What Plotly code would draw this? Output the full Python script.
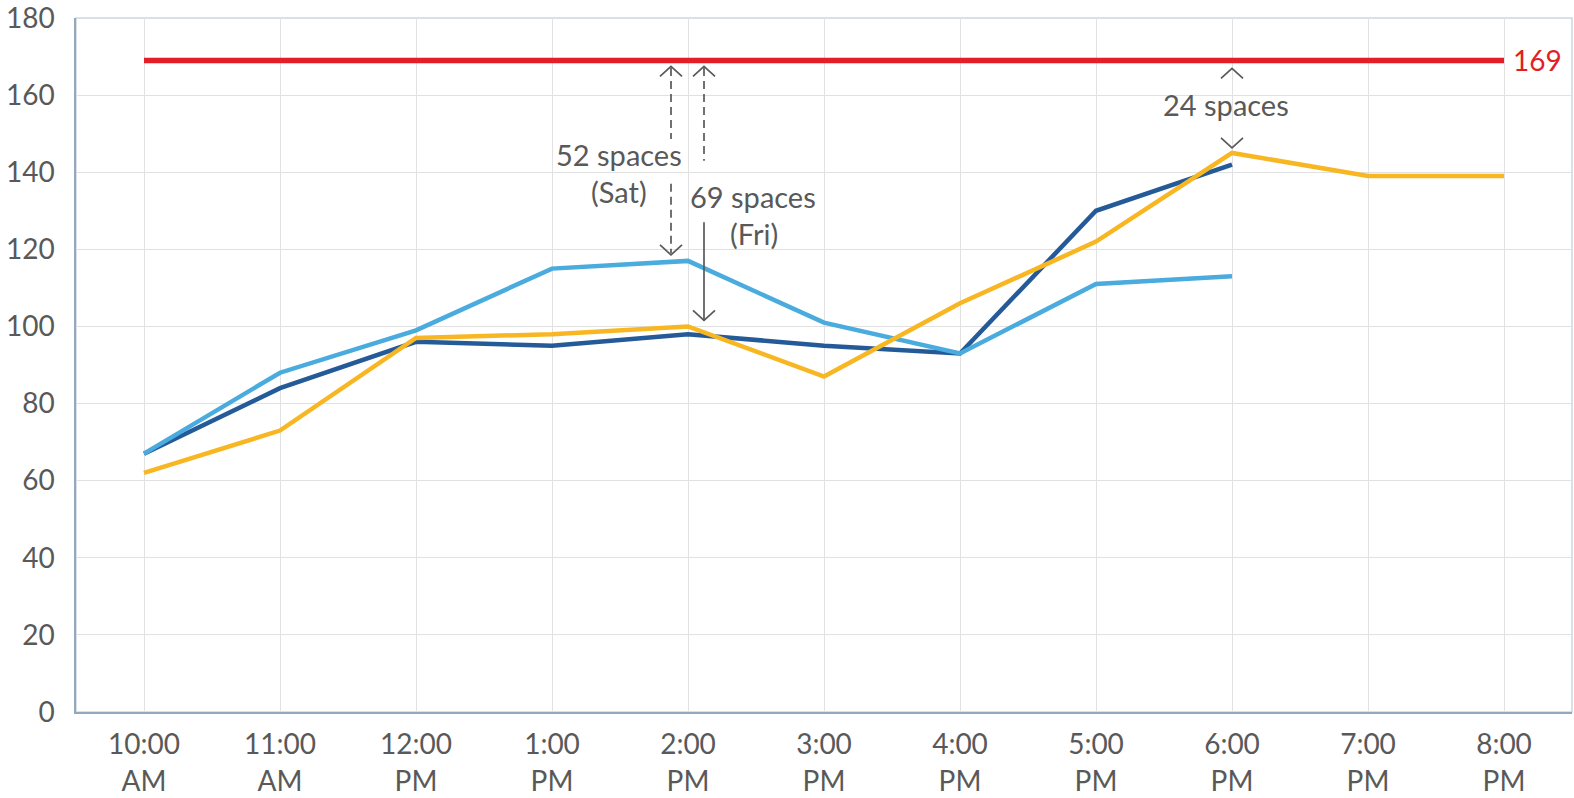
import plotly.graph_objects as go

# ---- data ----
categories = ["10:00<br>AM", "11:00<br>AM", "12:00<br>PM", "1:00<br>PM", "2:00<br>PM",
              "3:00<br>PM", "4:00<br>PM", "5:00<br>PM", "6:00<br>PM", "7:00<br>PM", "8:00<br>PM"]
other_day = [67, 84, 96, 95, 98, 95, 93, 130, 142]
saturday = [67, 88, 99, 115, 117, 101, 93, 111, 113]
friday = [62, 73, 97, 98, 100, 87, 106, 122, 145, 139, 139]
capacity = 169
y_ticks = [0, 20, 40, 60, 80, 100, 120, 140, 160, 180]

# ---- styles ----
RED = "#e31e26"
YELLOW = "#f8b722"
DARK = "#245a97"
LIGHT = "#4aabde"
GREY = "#595959"
FONT = "Lato"

fig = go.Figure()
fig.add_trace(go.Scatter(x=categories[:len(other_day)], y=other_day, mode="lines",
                         line=dict(color=DARK, width=4.5), name="Other day"))
fig.add_trace(go.Scatter(x=categories[:len(saturday)], y=saturday, mode="lines",
                         line=dict(color=LIGHT, width=4.5), name="Sat"))
fig.add_trace(go.Scatter(x=categories[:len(friday)], y=friday, mode="lines",
                         line=dict(color=YELLOW, width=4.5), name="Fri"))
fig.add_trace(go.Scatter(x=categories, y=[capacity] * len(categories), mode="lines",
                         line=dict(color=RED, width=5.5), name="Capacity"))

shapes = []
annotations = []

# plot border (light top/right)
shapes.append(dict(type="rect", xref="paper", yref="paper", x0=0, x1=1, y0=0, y1=1,
                   line=dict(color="#cdd7df", width=1.5), layer="below"))


def chevron(cat, anchor, up, offset=6, xoff=0):
    if up:
        path = f"M{xoff-11},{-offset-10} L{xoff},{-offset} L{xoff+11},{-offset-10}"
    else:
        path = f"M{xoff-11},{offset+10} L{xoff},{offset} L{xoff+11},{offset+10}"
    return dict(type="path", xref="x", yref="y", xsizemode="pixel", ysizemode="pixel",
                xanchor=cat, yanchor=anchor, path=path,
                line=dict(color=GREY, width=1.7))


def vline(cat, xoff, ya, yb, dash):
    return dict(type="line", xref="x", yref="y", xsizemode="pixel", xanchor=cat,
                x0=xoff, x1=xoff, y0=ya, y1=yb,
                line=dict(color=GREY, width=1.7, dash=dash))


c2 = categories[4]
sat_v = saturday[4]
fri_v = friday[4]
DASH = "8px,5px"
# Saturday gap arrow
shapes.append(chevron(c2, capacity, True, xoff=-17))
shapes.append(vline(c2, -17, capacity - 2.0, 148.6, DASH))
shapes.append(vline(c2, -17, 137.0, sat_v + 2.0, DASH))
shapes.append(chevron(c2, sat_v, False, xoff=-17))
# Friday gap arrow
shapes.append(chevron(c2, capacity, True, xoff=16))
shapes.append(vline(c2, 16, capacity - 2.0, 143.0, DASH))
shapes.append(vline(c2, 16, 127.0, fri_v + 1.5, "solid"))
shapes.append(chevron(c2, fri_v, False, xoff=16))
# 6 PM gap
c6 = categories[8]
shapes.append(chevron(c6, capacity, True, offset=8))
shapes.append(chevron(c6, friday[8], False, offset=5))


def label(cat, y, text, xshift, color=GREY, xanchor="center"):
    return dict(x=cat, y=y, xref="x", yref="y", text=text, showarrow=False,
                xshift=xshift, xanchor=xanchor, yanchor="middle",
                font=dict(family=FONT, size=29, color=color))


annotations.append(label(c2, 144.6, f"{capacity - sat_v} spaces", -69))
annotations.append(label(c2, 134.9, "(Sat)", -69))
annotations.append(label(c2, 133.7, f"{capacity - fri_v} spaces", 65))
annotations.append(label(c2, 124.1, "(Fri)", 66))
annotations.append(label(c6, 157.5, f"{capacity - friday[8]} spaces", -6))
annotations.append(dict(x=categories[-1], y=capacity, xref="x", yref="y", text=str(capacity),
                        showarrow=False, xanchor="left", yanchor="middle", xshift=7,
                        font=dict(family=FONT, size=28, color=RED)))

fig.update_layout(
    width=1574, height=798,
    margin=dict(l=76, r=2, t=18, b=86, autoexpand=False),
    paper_bgcolor="white", plot_bgcolor="white",
    showlegend=False,
    shapes=shapes, annotations=annotations,
    font=dict(family=FONT, color=GREY),
)
fig.update_xaxes(type="category", categoryorder="array", categoryarray=categories,
                 range=[-0.5, len(categories) - 0.5], automargin=False,
                 showgrid=True, gridcolor="#e1e1e1", gridwidth=1,
                 showline=True, linecolor="#93a8bd", linewidth=1.5,
                 ticks="", tickfont=dict(family=FONT, size=28, color=GREY),
                 ticklabelstandoff=7, ticklabeloverflow="allow",
                 zeroline=False, fixedrange=True)
fig.update_yaxes(range=[0, 180], tickvals=y_ticks, automargin=False,
                 showgrid=True, gridcolor="#e1e1e1", gridwidth=1,
                 showline=True, linecolor="#93a8bd", linewidth=1.5,
                 ticks="", tickfont=dict(family=FONT, size=28, color=GREY),
                 ticklabelstandoff=14, ticklabeloverflow="allow",
                 zeroline=False, fixedrange=True)

fig.write_html("out.html", config={"displayModeBar": False},
               post_script="document.body.style.margin='0';document.body.style.overflow='hidden';")
